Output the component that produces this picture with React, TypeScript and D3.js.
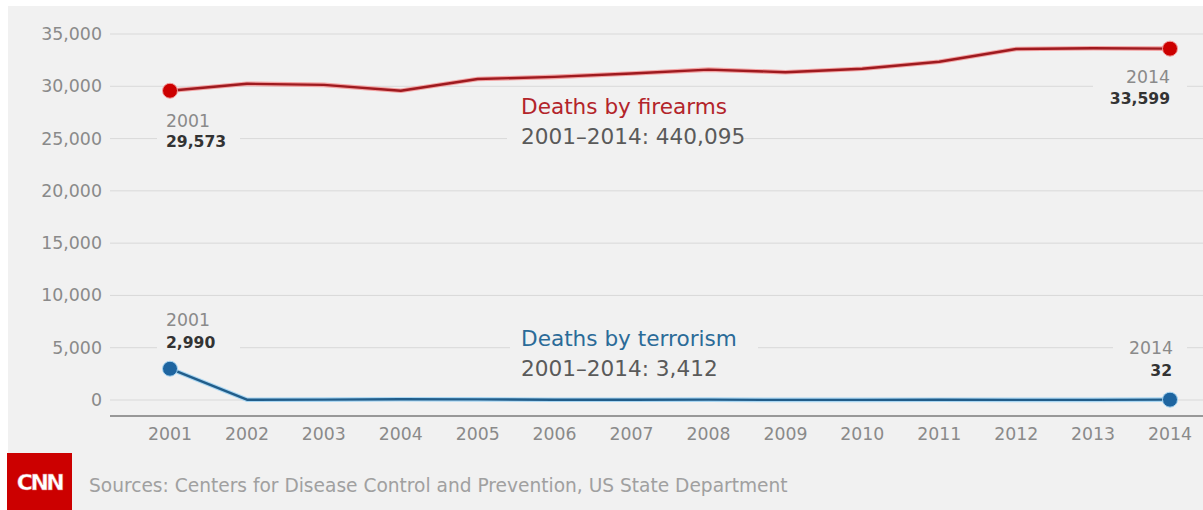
import React from "react";
import * as d3 from "d3";

const years = [2001, 2002, 2003, 2004, 2005, 2006, 2007, 2008, 2009, 2010, 2011, 2012, 2013, 2014];
const firearms = [29573, 30242, 30136, 29569, 30694, 30896, 31224, 31593, 31347, 31672, 32351, 33563, 33636, 33599];
const terrorism = [2990, 27, 35, 74, 56, 28, 19, 33, 9, 15, 17, 10, 16, 32];
const yTicks = [0, 5000, 10000, 15000, 20000, 25000, 30000, 35000];

const W = 1203;
const H = 510;
const FONT = "'DejaVu Sans', sans-serif";

export default function App() {
  const x = d3.scaleLinear().domain([2001, 2014]).range([170, 1170]);
  const y = d3.scaleLinear().domain([0, 35000]).range([400, 34]);
  const fmt = d3.format(",");

  const line = d3
    .line<number>()
    .x((_, i) => x(years[i]))
    .y((d) => y(d))
    .curve(d3.curveLinear);

  const fPath = line(firearms) || "";
  const tPath = line(terrorism) || "";

  const last = years.length - 1;
  const bg = "#f1f1f1";

  return (
    <svg
      width={W}
      height={H}
      style={{ position: "absolute", left: 0, top: 0, display: "block" }}
      fontFamily={FONT}
    >
      <rect x={0} y={0} width={W} height={H} fill="#ffffff" />
      <rect x={8} y={6} width={W - 8} height={H - 6} fill={bg} />

      {/* grid + y ticks */}
      {yTicks.map((t) => (
        <g key={t}>
          <line x1={110} x2={W} y1={y(t)} y2={y(t)} stroke="#d9d9d9" strokeWidth={1} />
          <text
            x={102}
            y={y(t)}
            textAnchor="end"
            dominantBaseline="central"
            fontSize={17.4}
            fill="#8a8a8a"
          >
            {fmt(t)}
          </text>
        </g>
      ))}

      {/* x axis */}
      <line x1={110} x2={W} y1={416} y2={416} stroke="#7a7a7a" strokeWidth={1.5} />
      {years.map((yr) => (
        <text
          key={yr}
          x={x(yr)}
          y={434}
          textAnchor="middle"
          dominantBaseline="central"
          fontSize={17.3}
          fill="#8a8a8a"
        >
          {yr}
        </text>
      ))}

      {/* label background boxes (interrupt gridlines) */}
      <rect x={157} y={103} width={83} height={50} fill={bg} />
      <rect x={1093} y={64} width={94} height={50} fill={bg} />
      <rect x={507} y={92} width={236} height={60} fill={bg} />
      <rect x={157} y={308} width={83} height={48} fill={bg} />
      <rect x={510} y={324} width={248} height={58} fill={bg} />
      <rect x={1113} y={336} width={74} height={48} fill={bg} />

      {/* lines */}
      <path d={fPath} fill="none" stroke="#f3a3a3" strokeWidth={4.6} strokeLinejoin="round" />
      <path d={fPath} fill="none" stroke="#9e1a1f" strokeWidth={2.4} strokeLinejoin="round" />
      <path d={tPath} fill="none" stroke="#a9d6f2" strokeWidth={4.6} strokeLinejoin="round" />
      <path d={tPath} fill="none" stroke="#215d8a" strokeWidth={2.4} strokeLinejoin="round" />

      {/* end points */}
      <circle cx={x(years[0])} cy={y(firearms[0])} r={7.5} fill="#cc0000" stroke="#f2a0a0" strokeWidth={1} />
      <circle cx={x(years[last])} cy={y(firearms[last])} r={7.5} fill="#cc0000" stroke="#f2a0a0" strokeWidth={1} />
      <circle cx={x(years[0])} cy={y(terrorism[0])} r={7.5} fill="#1e65a0" stroke="#a9d6f2" strokeWidth={1} />
      <circle cx={x(years[last])} cy={y(terrorism[last])} r={7.5} fill="#1e65a0" stroke="#a9d6f2" strokeWidth={1} />

      {/* firearms annotations */}
      <text x={166} y={120.5} dominantBaseline="central" fontSize={17.3} fill="#8a8a8a">
        {years[0]}
      </text>
      <text x={166} y={142} dominantBaseline="central" fontSize={15.6} fontWeight="bold" fill="#333">
        {fmt(firearms[0])}
      </text>
      <text x={1170} y={77} textAnchor="end" dominantBaseline="central" fontSize={17.3} fill="#8a8a8a">
        {years[last]}
      </text>
      <text x={1170} y={99} textAnchor="end" dominantBaseline="central" fontSize={15.6} fontWeight="bold" fill="#333">
        {fmt(firearms[last])}
      </text>
      <text x={521} y={106} dominantBaseline="central" fontSize={21.6} fill="#b3242a">
        Deaths by firearms
      </text>
      <text x={521} y={136.5} dominantBaseline="central" fontSize={21.6} fill="#5a5a5a">
        2001–2014: 440,095
      </text>

      {/* terrorism annotations */}
      <text x={166} y={320} dominantBaseline="central" fontSize={17.3} fill="#8a8a8a">
        {years[0]}
      </text>
      <text x={166} y={342.5} dominantBaseline="central" fontSize={15.6} fontWeight="bold" fill="#333">
        {fmt(terrorism[0])}
      </text>
      <text x={1173} y={348} textAnchor="end" dominantBaseline="central" fontSize={17.3} fill="#8a8a8a">
        {years[last]}
      </text>
      <text x={1172} y={371} textAnchor="end" dominantBaseline="central" fontSize={15.6} fontWeight="bold" fill="#333">
        {fmt(terrorism[last])}
      </text>
      <text x={521} y={338} dominantBaseline="central" fontSize={21.6} fill="#2b6b98">
        Deaths by terrorism
      </text>
      <text x={521} y={368} dominantBaseline="central" fontSize={21.6} fill="#5a5a5a">
        2001–2014: 3,412
      </text>

      {/* footer */}
      <rect x={7} y={453} width={65} height={H - 453} fill="#cc0000" />
      <text
        x={39.5}
        y={482}
        textAnchor="middle"
        dominantBaseline="central"
        fontSize={22}
        fontWeight="bold"
        letterSpacing={-2.5}
        fill="#ffffff"
        stroke="#e06060"
        strokeWidth={0.4}
      >
        CNN
      </text>
      <text x={89} y={485.5} dominantBaseline="central" fontSize={18.6} fill="#a0a0a0">
        Sources: Centers for Disease Control and Prevention, US State Department
      </text>
    </svg>
  );
}
